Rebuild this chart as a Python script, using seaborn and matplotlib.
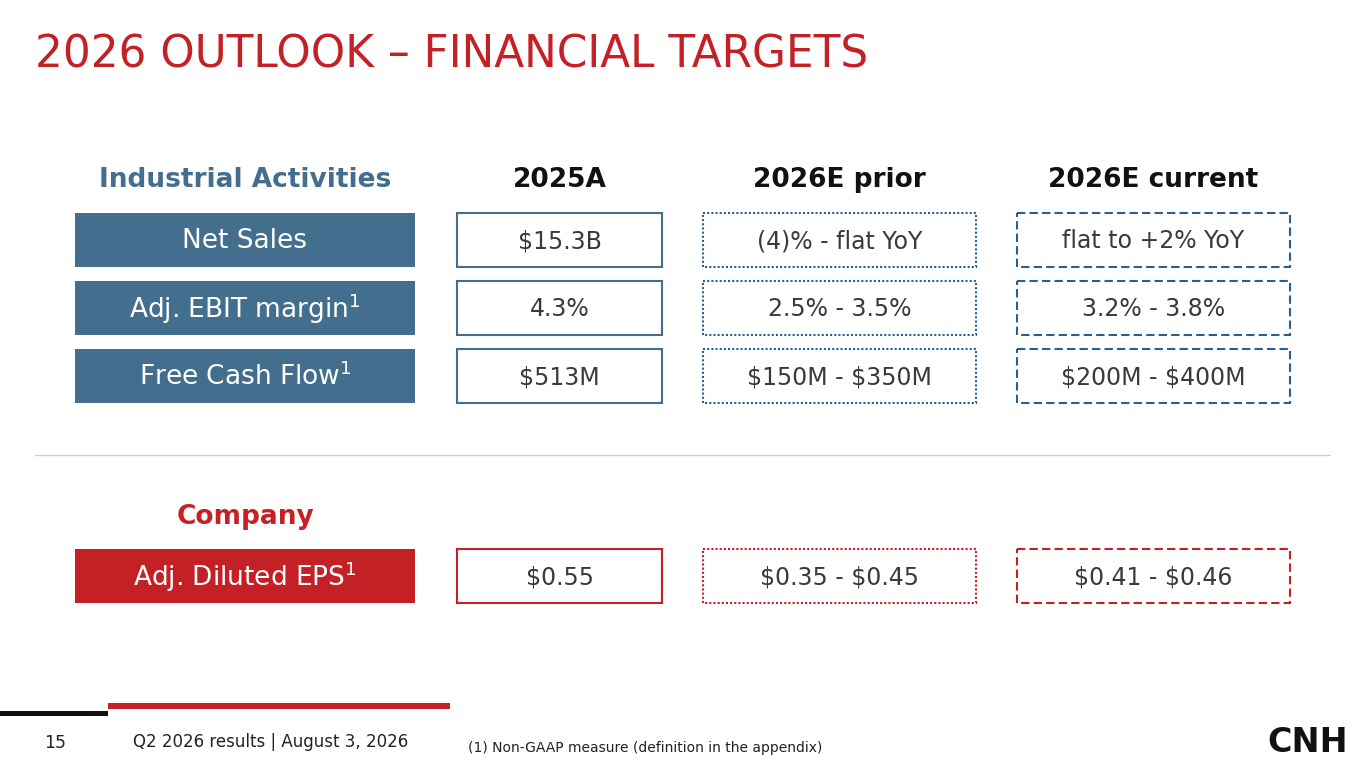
import matplotlib
matplotlib.use("Agg")
import matplotlib.pyplot as plt
import matplotlib.patches as patches
import seaborn as sns

# ---- data ----
columns = ["2025A", "2026E prior", "2026E current"]
metrics = ["Net Sales", "Adj. EBIT margin", "Free Cash Flow"]
metric_sup = [False, True, True]
actual_2025 = ["$15.3B", "4.3%", "$513M"]
prior_2026 = ["(4)% - flat YoY", "2.5% - 3.5%", "$150M - $350M"]
current_2026 = ["flat to +2% YoY", "3.2% - 3.8%", "$200M - $400M"]
eps_label = "Adj. Diluted EPS"
eps_values = ["$0.55", "$0.35 - $0.45", "$0.41 - $0.46"]

sns.set_theme(style="white")
plt.rcParams['font.family'] = ['DejaVu Sans']

RED = "#C42126"
BLUE = "#436E8E"
DBLUE = "#2B5F8E"
TXT = "#3A3A3A"

fig = plt.figure(figsize=(13.65, 7.68), dpi=100)
ax = fig.add_axes([0, 0, 1, 1])
ax.set_xlim(0, 1365)
ax.set_ylim(768, 0)
ax.axis("off")

ax.text(35, 55, "2026 OUTLOOK – FINANCIAL TARGETS", color=RED, fontsize=31.5,
        va="center", ha="left", parse_math=False)

# headers
col_x = [(457, 662), (703, 976), (1017, 1290)]
ax.text(245, 180, "Industrial Activities", color=BLUE, fontsize=19,
        fontweight="bold", ha="center", va="center")
for (x0, x1), name in zip(col_x, columns):
    ax.text((x0 + x1) / 2, 180, name, color="#111111", fontsize=19,
            fontweight="bold", ha="center", va="center")


def label_box(y, text, sup, color):
    ax.add_patch(patches.Rectangle((75, y), 340, 54, facecolor=color, edgecolor="none"))
    t = text + ("$^{1}$" if sup else "")
    ax.text(245, y + 28, t, color="white", fontsize=19, ha="center", va="center")


def value_box(col, y, text, color, style):
    x0, x1 = col_x[col]
    ax.add_patch(patches.Rectangle((x0, y), x1 - x0, 54, facecolor="white",
                                   edgecolor=color, linewidth=1.5, linestyle=style))
    ax.text((x0 + x1) / 2, y + 28, text, color=TXT, fontsize=17, ha="center",
            va="center", parse_math=False)


row_y = [213, 281, 349]
for i, y in enumerate(row_y):
    label_box(y, metrics[i], metric_sup[i], BLUE)
    value_box(0, y, actual_2025[i], BLUE, "-")
    value_box(1, y, prior_2026[i], DBLUE, (0, (1, 1)))
    value_box(2, y, current_2026[i], DBLUE, (0, (4, 2)))

ax.plot([35, 1330], [455, 455], color="#D0D0D0", linewidth=1)

ax.text(245, 517, "Company", color=RED, fontsize=19, fontweight="bold",
        ha="center", va="center")
label_box(549, eps_label, True, RED)
value_box(0, 549, eps_values[0], RED, "-")
value_box(1, 549, eps_values[1], RED, (0, (1, 1)))
value_box(2, 549, eps_values[2], RED, (0, (4, 2)))

# footer
ax.add_patch(patches.Rectangle((0, 711), 108, 5, facecolor="#111111", edgecolor="none"))
ax.add_patch(patches.Rectangle((108, 703), 342, 6, facecolor=RED, edgecolor="none"))
ax.text(44, 743, "15", fontsize=12.5, color="#222222", va="center", ha="left")
ax.text(133, 742, "Q2 2026 results | August 3, 2026", fontsize=12, color="#222222",
        va="center", ha="left")
ax.text(468, 748, "(1) Non-GAAP measure (definition in the appendix)", fontsize=10,
        color="#222222", va="center", ha="left")
ax.text(1348, 743, "CNH", fontsize=24, fontweight="black", color="#111111",
        va="center", ha="right")

fig.savefig("out.png", dpi=100)
